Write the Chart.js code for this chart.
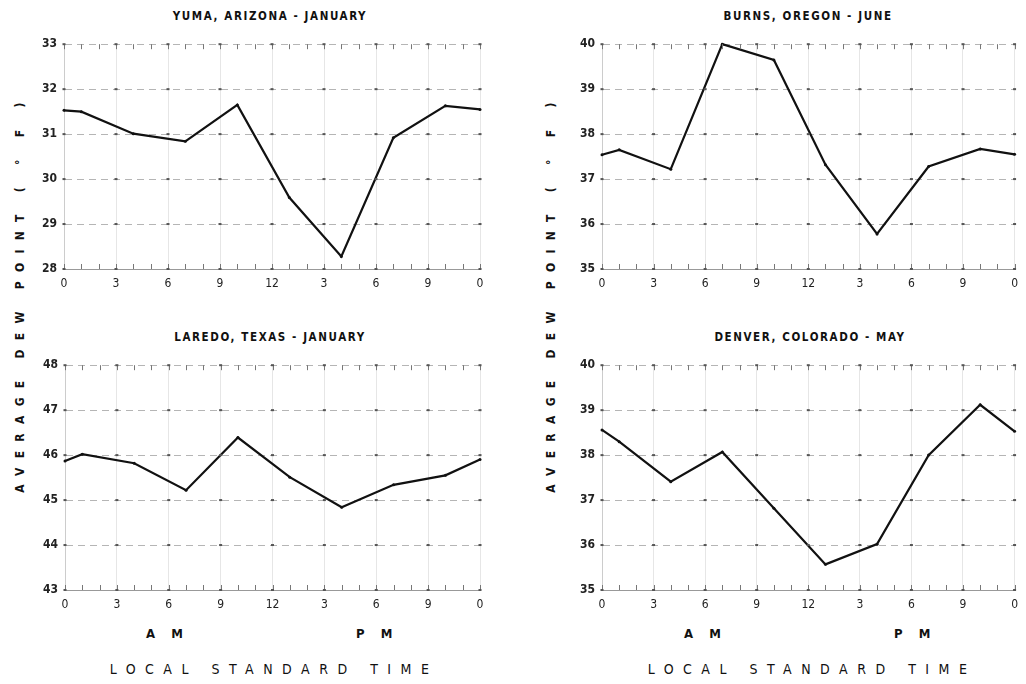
<!DOCTYPE html>
<html>
<head>
<meta charset="utf-8">
<script src="https://cdn.jsdelivr.net/npm/chart.js@4.4.1/dist/chart.umd.min.js"></script>
<style>
  body { margin: 0; background: #fff; width: 1026px; height: 684px; overflow: hidden; position: relative; font-family: "DejaVu Sans Condensed", "DejaVu Sans", sans-serif; color: #111; }
  .box { position: absolute; }
  .title { position: absolute; font-weight: bold; font-size: 11.5px; letter-spacing: 1.6px; text-align: center; width: 400px; }
  .ampm { position: absolute; font-weight: bold; font-size: 13px; }
  .lst { position: absolute; font-size: 14px; letter-spacing: 9.5px; text-align: center; width: 440px; }
  .ylab { position: absolute; width: 420px; text-align: center; font-weight: bold; font-size: 12px; letter-spacing: 9.3px; transform: rotate(-90deg); white-space: pre; }
</style>
</head>
<body>

<div class="title" style="left:70px; top:9px;">YUMA, ARIZONA - JANUARY</div>
<div class="title" style="left:608px; top:9px;">BURNS, OREGON - JUNE</div>
<div class="title" style="left:70px; top:330px;">LAREDO, TEXAS - JANUARY</div>
<div class="title" style="left:610px; top:330px;">DENVER, COLORADO - MAY</div>

<div class="ylab" style="left:-190px; top:286px;">AVERAGE DEW POINT ( ° F )</div>
<div class="ylab" style="left:341px; top:286px;">AVERAGE DEW POINT ( ° F )</div>

<div class="ampm" style="left:146px; top:626px;">A&nbsp;&nbsp;&nbsp;&nbsp;M</div>
<div class="ampm" style="left:356px; top:626px;">P&nbsp;&nbsp;&nbsp;&nbsp;M</div>
<div class="ampm" style="left:684px; top:626px;">A&nbsp;&nbsp;&nbsp;&nbsp;M</div>
<div class="ampm" style="left:894px; top:626px;">P&nbsp;&nbsp;&nbsp;&nbsp;M</div>

<div class="lst" style="left:54px; top:661px;">LOCAL STANDARD TIME</div>
<div class="lst" style="left:592px; top:661px;">LOCAL STANDARD TIME</div>

<div class="box" style="left:0px; top:30px; width:500px; height:270px;"><canvas id="yuma"></canvas></div>
<div class="box" style="left:520px; top:30px; width:506px; height:270px;"><canvas id="burns"></canvas></div>
<div class="box" style="left:0px; top:351px; width:500px; height:270px;"><canvas id="laredo"></canvas></div>
<div class="box" style="left:520px; top:351px; width:506px; height:270px;"><canvas id="denver"></canvas></div>

<script>
// hours of day (0 = midnight, 24 = next midnight)
const hours = [0, 1, 4, 7, 10, 13, 16, 19, 22, 24];
const xTickLabels = ['0', '3', '6', '9', '12', '3', '6', '9', '0'];

// average dew point, deg F
const yuma   = [31.53, 31.50, 31.01, 30.84, 31.65, 29.59, 28.28, 30.92, 31.63, 31.55];
const burns  = [37.54, 37.65, 37.22, 40.00, 39.65, 37.32, 35.78, 37.28, 37.67, 37.55];
const laredo = [45.87, 46.02, 45.82, 45.22, 46.39, 45.51, 44.84, 45.34, 45.55, 45.90];
const denver = [38.56, 38.30, 37.41, 38.07, 36.82, 35.57, 36.02, 38.00, 39.12, 38.53];

// y ranges of each panel
const yumaRange   = [28, 33];
const burnsRange  = [35, 40];
const laredoRange = [43, 48];
const denverRange = [35, 40];

// little tick marks at every hour along top and bottom, plus grid dots
const hourTicks = {
    id: 'hourTicks',
    afterDraw(chart) {
        const ctx = chart.ctx;
        const xs = chart.scales.x, ys = chart.scales.y;
        const top = chart.chartArea.top, bottom = chart.chartArea.bottom;
        ctx.save();
        ctx.strokeStyle = '#777';
        ctx.lineWidth = 1;
        for (let h = 0; h <= 24; h++) {
            const px = Math.round(xs.getPixelForValue(h)) + 0.5;
            ctx.beginPath();
            ctx.moveTo(px, bottom); ctx.lineTo(px, bottom - 5);
            ctx.moveTo(px, top); ctx.lineTo(px, top + 5);
            ctx.stroke();
        }
        ctx.fillStyle = '#555';
        for (let v = ys.min; v <= ys.max; v++) {
            const py = ys.getPixelForValue(v);
            for (let h = 0; h <= 24; h += 3) {
                const px = xs.getPixelForValue(h);
                ctx.fillRect(px - 1.5, py - 1, 3, 2);
            }
        }
        ctx.restore();
    }
};

function makeChart(id, values, range, axisWidth, padRight) {
    new Chart(document.getElementById(id), {
        type: 'line',
        data: {
            datasets: [{
                data: hours.map((h, i) => ({ x: h, y: values[i] })),
                borderColor: '#111',
                borderWidth: 2.2,
                pointRadius: 1.5,
                pointBackgroundColor: '#111',
                pointBorderWidth: 0,
                tension: 0,
                clip: false
            }]
        },
        options: {
            responsive: true,
            maintainAspectRatio: false,
            animation: false,
            layout: { padding: { top: 11, right: padRight, left: 0, bottom: 0 } },
            plugins: { legend: { display: false }, tooltip: { enabled: false } },
            scales: {
                x: {
                    type: 'linear',
                    min: 0, max: 24,
                    afterFit: s => { s.height = 31; },
                    ticks: {
                        stepSize: 3,
                        padding: 8,
                        color: '#222',
                        font: { family: 'DejaVu Sans Condensed', size: 12 },
                        callback: v => xTickLabels[v / 3]
                    },
                    grid: { color: '#e6e6e6', lineWidth: 1, drawTicks: false },
                    border: { display: true, color: '#999' }
                },
                y: {
                    min: range[0], max: range[1],
                    afterFit: s => { s.width = axisWidth; },
                    ticks: {
                        stepSize: 1,
                        padding: 7,
                        color: '#222',
                        font: { family: 'DejaVu Sans Condensed', size: 12, weight: 'bold' }
                    },
                    grid: { color: '#b5b5b5', lineWidth: 1, drawTicks: false },
                    border: { display: true, color: '#ccc', dash: [7, 5] }
                }
            }
        },
        plugins: [hourTicks]
    });
}

makeChart('yuma', yuma, yumaRange, 64, 20);
makeChart('burns', burns, burnsRange, 82, 8);
makeChart('laredo', laredo, laredoRange, 65, 20);
makeChart('denver', denver, denverRange, 82, 8);
</script>
</body>
</html>
